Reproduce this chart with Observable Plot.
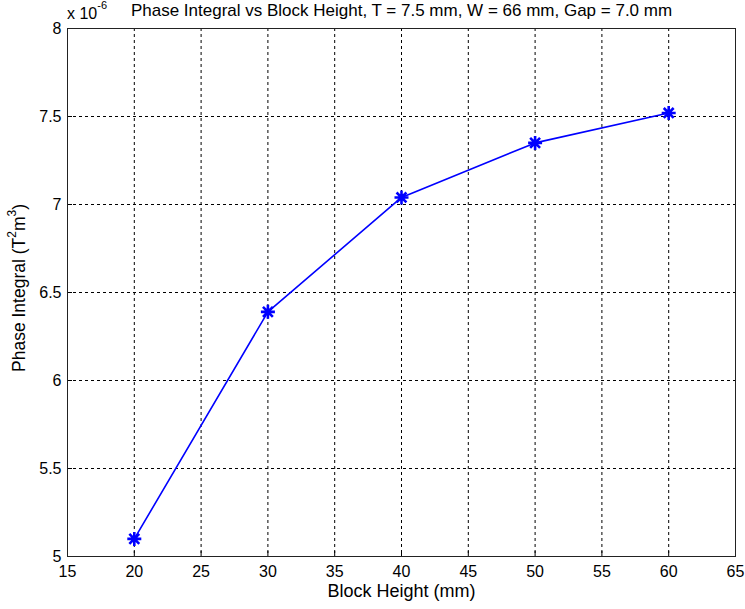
<!DOCTYPE html>
<html>
<head>
<meta charset="utf-8">
<script src="https://cdn.jsdelivr.net/npm/d3@7"></script>
<script src="https://cdn.jsdelivr.net/npm/@observablehq/plot@0.6"></script>
<style>
  html, body { margin: 0; padding: 0; background: #fff; }
  #chart svg { display: block; }
</style>
</head>
<body>
<div id="chart"></div>
<script>
const blockHeight = [20, 30, 40, 50, 60];
const phaseIntegral = [5.10, 6.39, 7.04, 7.35, 7.52]; // x 10^-6 T^2 m^3
const xTicks = [15, 20, 25, 30, 35, 40, 45, 50, 55, 60, 65];
const yTicks = [5, 5.5, 6, 6.5, 7, 7.5, 8];
const titleText = "Phase Integral vs Block Height, T = 7.5 mm, W = 66 mm, Gap = 7.0 mm";
const xLabel = "Block Height (mm)";

const data = blockHeight.map((h, i) => ({h, v: phaseIntegral[i]}));
const font = "Arial, 'Liberation Sans', sans-serif";

// MATLAB-style 8-spoke asterisk marker
const star8 = {
  draw(ctx, size) {
    const r = Math.sqrt(size / Math.PI);
    const d = r * Math.SQRT1_2;
    ctx.moveTo(-r, 0); ctx.lineTo(r, 0);
    ctx.moveTo(0, -r); ctx.lineTo(0, r);
    ctx.moveTo(-d, -d); ctx.lineTo(d, d);
    ctx.moveTo(-d, d); ctx.lineTo(d, -d);
  }
};

const mTop = 28, mBottom = 53, H = 609;

const plot = Plot.plot({
  width: 745,
  height: H,
  marginLeft: 67,
  marginRight: 10,
  marginTop: mTop,
  marginBottom: mBottom,
  style: {fontFamily: font, fontSize: "15px", color: "#000", background: "#fff"},
  x: {domain: [15, 65], ticks: xTicks},
  y: {domain: [5, 8], ticks: yTicks},
  marks: [
    Plot.gridX(xTicks, {stroke: "#000", strokeOpacity: 1, strokeDasharray: "3,3", strokeWidth: 1}),
    Plot.gridY(yTicks, {stroke: "#000", strokeOpacity: 1, strokeDasharray: "3,3", strokeWidth: 1}),
    Plot.axisX(xTicks, {tickSize: -5, tickPadding: 14, label: null, tickFormat: d => String(d)}),
    Plot.axisY(yTicks, {tickSize: -5, tickPadding: 11, label: null, tickFormat: d => String(d)}),
    Plot.frame({stroke: "#222", strokeWidth: 1}),
    Plot.line(data, {x: "h", y: "v", stroke: "#0000ff", strokeWidth: 1.6}),
    Plot.dot(data, {x: "h", y: "v", symbol: star8, r: 7, stroke: "#0000ff", strokeWidth: 2.6}),
    Plot.text([titleText], {frameAnchor: "top", dy: -18, text: d => d, fontSize: 17, fill: "#000", lineAnchor: "middle"}),
    Plot.text([xLabel], {frameAnchor: "bottom", dy: 35, text: d => d, fontSize: 18, fill: "#000", lineAnchor: "middle"})
  ]
});

const svg = d3.select(plot);
// larger tick labels, as in the reference
svg.selectAll('g[aria-label="x-axis tick label"], g[aria-label="y-axis tick label"]')
  .attr("font-size", 16).style("font-size", "16px");

// y-axis label with superscripts
const yl = svg.append("text")
  .attr("transform", "translate(20,288) rotate(-90)")
  .attr("text-anchor", "middle")
  .attr("dominant-baseline", "middle")
  .attr("font-size", 17.5)
  .attr("font-family", font)
  .attr("fill", "#000");
yl.append("tspan").text("Phase Integral (T");
yl.append("tspan").attr("font-size", 12).attr("dy", -7).text("2");
yl.append("tspan").attr("dy", 7).text("m");
yl.append("tspan").attr("font-size", 12).attr("dy", -7).text("3");
yl.append("tspan").attr("dy", 7).text(")");
// exponent label
const ex = svg.append("text")
  .attr("x", 67).attr("y", 19)
  .attr("text-anchor", "start")
  .attr("font-size", 16)
  .attr("font-family", font)
  .attr("fill", "#000");
ex.append("tspan").text("x 10");
ex.append("tspan").attr("font-size", 11).attr("dy", -10).text("-6");

document.getElementById("chart").appendChild(plot);
</script>
</body>
</html>
